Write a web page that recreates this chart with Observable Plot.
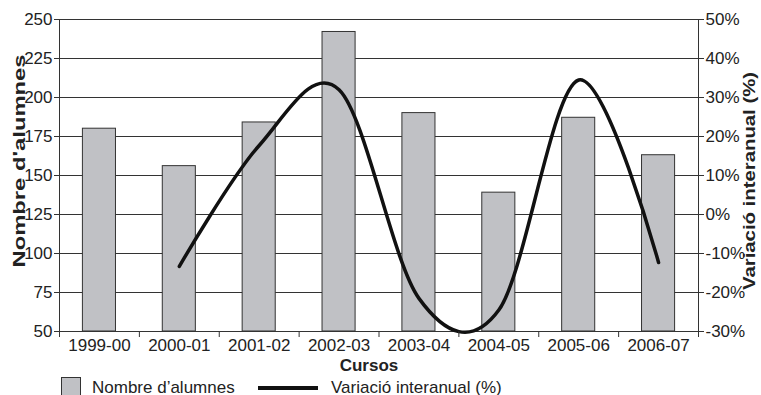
<!DOCTYPE html>
<html>
<head>
<meta charset="utf-8">
<script src="https://cdn.jsdelivr.net/npm/d3@7"></script>
<script src="https://cdn.jsdelivr.net/npm/@observablehq/plot@0.6"></script>
<style>
  html, body { margin: 0; padding: 0; background: #fff; }
  body { width: 761px; height: 395px; overflow: hidden; font-family: "Liberation Sans", Arial, sans-serif; color: #222; }
  #legend { position: relative; width: 761px; height: 20px; overflow: hidden; font-size: 17px; }
  #legend .sw { position: absolute; left: 61px; top: 2px; width: 18px; height: 20px; background: #c0c1c5; border: 1px solid #333; }
  #legend .ln { position: absolute; left: 258px; top: 11px; width: 60px; height: 4px; background: #111; }
  #legend .t { position: absolute; top: 2.5px; line-height: normal; white-space: nowrap; }
</style>
</head>
<body>
<div id="chart"></div>
<div id="legend">
  <div class="sw"></div><span class="t" style="left:92px">Nombre d’alumnes</span>
  <div class="ln"></div><span class="t" style="left:331px">Variació interanual (%)</span>
</div>
<script>
const courses = ["1999-00", "2000-01", "2001-02", "2002-03", "2003-04", "2004-05", "2005-06", "2006-07"];
const students = [180, 156, 184, 242, 190, 139, 187, 163];
const variation = [null, -13.3, 17.7, 32, -21.5, -24.5, 34.5, -12.3];
const leftTicks = [50, 75, 100, 125, 150, 175, 200, 225, 250];
const rightTicks = [-30, -20, -10, 0, 10, 20, 30, 40, 50];

// map the right-hand (%) scale onto the left-hand y domain
const toY = p => 50 + (p + 30) * 2.5;
const fromY = v => Math.round((v - 50) / 2.5 - 30);

const idx = courses.map((d, i) => i);
const lineIdx = idx.filter(i => variation[i] != null);
const half = 0.207;

const svg = Plot.plot({
  width: 761,
  height: 375,
  marginTop: 19,
  marginBottom: 44,
  marginLeft: 59,
  marginRight: 63,
  style: { fontFamily: "Liberation Sans, Arial, sans-serif", fontSize: "17px", color: "#222", background: "#fff" },
  x: { domain: [0, courses.length], axis: null },
  y: { domain: [50, 250], axis: null },
  marks: [
    Plot.gridY(leftTicks, { stroke: "#333", strokeOpacity: 1, strokeWidth: 1 }),
    Plot.rectY(idx, {
      x1: i => i + 0.5 - half,
      x2: i => i + 0.5 + half,
      y1: 50,
      y2: i => students[i],
      fill: "#c0c1c5",
      stroke: "#333",
      strokeWidth: 1
    }),
    Plot.frame({ stroke: "#333" }),
    Plot.line(lineIdx, {
      x: i => i + 0.5,
      y: i => toY(variation[i]),
      curve: "cardinal",
      tension: 0,
      stroke: "#111",
      strokeWidth: 3.5,
      strokeLinejoin: "round"
    }),
    Plot.axisY(leftTicks, { anchor: "left", tickSize: 5, tickPadding: 2, label: null, stroke: "#333" }),
    Plot.axisY(rightTicks.map(toY), { anchor: "right", tickSize: 5, tickPadding: 2, label: null, tickFormat: v => fromY(v) + "%", stroke: "#333" }),
    Plot.axisX(d3.range(0, courses.length + 1), { anchor: "bottom", tickSize: 6, tickFormat: () => "", label: null, stroke: "#333" }),
    Plot.axisX(idx.map(i => i + 0.5), { anchor: "bottom", tickSize: 0, tickPadding: 7, tickFormat: v => courses[Math.floor(v)], label: null })
  ]
});

const s = d3.select(svg);
s.append("text")
  .attr("transform", "translate(25,161) rotate(-90)")
  .attr("text-anchor", "middle")
  .attr("font-weight", "bold")
  .attr("font-size", 16)
  .attr("fill", "#222")
  .attr("textLength", 213)
  .attr("lengthAdjust", "spacingAndGlyphs")
  .text("Nombre d'alumnes");
s.append("text")
  .attr("transform", "translate(755,181) rotate(-90)")
  .attr("text-anchor", "middle")
  .attr("font-weight", "bold")
  .attr("font-size", 16)
  .attr("fill", "#222")
  .attr("textLength", 218)
  .attr("lengthAdjust", "spacingAndGlyphs")
  .text("Variació interanual (%)");
s.append("text")
  .attr("x", 369)
  .attr("y", 371)
  .attr("text-anchor", "middle")
  .attr("font-weight", "bold")
  .attr("font-size", 17)
  .attr("fill", "#222")
  .text("Cursos");

document.getElementById("chart").appendChild(svg);
</script>
</body>
</html>
